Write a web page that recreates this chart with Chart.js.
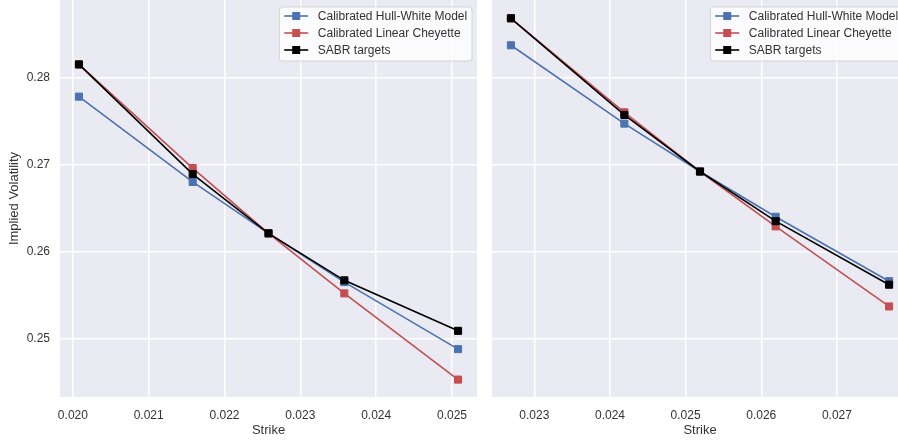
<!DOCTYPE html>
<html>
<head>
<meta charset="utf-8">
<script src="https://cdn.jsdelivr.net/npm/chart.js@4/dist/chart.umd.min.js"></script>
<style>
  html, body { margin: 0; padding: 0; background: #fff; overflow: hidden; }
  #wrap { position: relative; width: 898px; height: 441px; overflow: hidden; }
  #leftChart { position: absolute; left: 0; top: 0; }
  #rightChart { position: absolute; left: 492px; top: 0; }
</style>
</head>
<body>
<div id="wrap">
  <canvas id="leftChart" width="477" height="441"></canvas>
  <canvas id="rightChart" width="416" height="441"></canvas>
</div>
<script>
const seriesNames = ['Calibrated Hull-White Model', 'Calibrated Linear Cheyette', 'SABR targets'];
const seriesColors = ['#4C72B0', '#C44E52', '#000000'];

// left panel
const leftStrikes = [0.02008, 0.02158, 0.02258, 0.02358, 0.02508];
const leftHW   = [0.2778, 0.2680, 0.2621, 0.2565, 0.2488];
const leftLC   = [0.2815, 0.2696, 0.2621, 0.2552, 0.2453];
const leftSABR = [0.2815, 0.2689, 0.2621, 0.2567, 0.2509];

// right panel
const rightStrikes = [0.02269, 0.02419, 0.02519, 0.02619, 0.02769];
const rightHW   = [0.2837, 0.2747, 0.2692, 0.2640, 0.2566];
const rightLC   = [0.2868, 0.2760, 0.2692, 0.2629, 0.2537];
const rightSABR = [0.2868, 0.2757, 0.2692, 0.2635, 0.2562];

const yTicks = [0.25, 0.26, 0.27, 0.28];
const leftXTicks = [0.020, 0.021, 0.022, 0.023, 0.024, 0.025];
const rightXTicks = [0.023, 0.024, 0.025, 0.026, 0.027];

const yMin = 0.2433, yMax = 0.2889;

const FONT = "'Liberation Sans', Arial, sans-serif";
const TEXT = '#333333';

function makeDatasets(strikes, seriesValues) {
    return seriesValues.map((vals, i) => ({
        label: seriesNames[i],
        data: strikes.map((x, j) => ({ x: x, y: vals[j] })),
        borderColor: seriesColors[i],
        backgroundColor: seriesColors[i],
        borderWidth: 1.6,
        pointStyle: 'rect',
        pointRadius: 5,
        pointBorderWidth: 1,
        order: seriesValues.length - i // SABR on top
    }));
}

const darkgrid = {
    id: 'darkgrid',
    beforeDraw(chart) {
        const a = chart.chartArea, ctx = chart.ctx;
        ctx.save();
        ctx.fillStyle = '#EAEAF2';
        ctx.fillRect(a.left, a.top, a.right - a.left, a.bottom - a.top);
        ctx.restore();
    }
};

// matplotlib-like legend in upper right
const boxLegend = {
    id: 'boxLegend',
    afterDraw(chart) {
        const ctx = chart.ctx, a = chart.chartArea;
        const pad = 4.8, handle = 24, gap = 9.6, rowH = 17;
        ctx.save();
        ctx.font = '12px ' + FONT;
        const textW = Math.max(...seriesNames.map(n => ctx.measureText(n).width));
        const w = pad * 2 + handle + gap + textW;
        const h = 54;
        const x0 = a.right - 5 - w, y0 = a.top + 7;

        ctx.beginPath();
        if (ctx.roundRect) ctx.roundRect(x0, y0, w, h, 3); else ctx.rect(x0, y0, w, h);
        ctx.fillStyle = 'rgba(255,255,255,0.8)';
        ctx.fill();
        ctx.strokeStyle = 'rgba(204,204,204,0.8)';
        ctx.lineWidth = 1;
        ctx.stroke();

        seriesNames.forEach((name, i) => {
            const cy = y0 + 9 + i * rowH;
            const lx = x0 + pad;
            ctx.strokeStyle = seriesColors[i];
            ctx.lineWidth = 1.6;
            ctx.beginPath();
            ctx.moveTo(lx, cy);
            ctx.lineTo(lx + handle, cy);
            ctx.stroke();
            ctx.fillStyle = seriesColors[i];
            ctx.fillRect(lx + handle / 2 - 4, cy - 4, 8, 8);
            ctx.fillStyle = TEXT;
            ctx.textBaseline = 'middle';
            ctx.textAlign = 'left';
            ctx.fillText(name, lx + handle + gap, cy + 0.5);
        });
        ctx.restore();
    }
};

function noPad(s) {
    s.paddingTop = 0;
    s.paddingBottom = 0;
    s.paddingLeft = 0;
    s.paddingRight = 0;
}

function makeOptions(xMin, xMax, xTicks, showY) {
    return {
        responsive: false,
        animation: false,
        devicePixelRatio: 1,
        layout: { padding: 0, autoPadding: false },
        plugins: { legend: { display: false }, tooltip: { enabled: false } },
        scales: {
            x: {
                type: 'linear',
                min: xMin,
                max: xMax,
                afterBuildTicks: s => { s.ticks = xTicks.map(v => ({ value: v })); },
                afterFit: s => { s.height = 44; noPad(s); },
                grid: { color: '#ffffff', lineWidth: 1.5, drawTicks: false },
                border: { display: false },
                ticks: {
                    color: TEXT,
                    font: { family: FONT, size: 12 },
                    padding: 11,
                    maxRotation: 0,
                    autoSkip: false,
                    callback: v => Number(v).toFixed(3)
                },
                title: {
                    display: true,
                    text: 'Strike',
                    color: TEXT,
                    font: { family: FONT, size: 13 },
                    padding: { top: 0, bottom: 3 }
                }
            },
            y: {
                type: 'linear',
                min: yMin,
                max: yMax,
                afterBuildTicks: s => { s.ticks = yTicks.map(v => ({ value: v })); },
                afterFit: s => { s.width = showY ? 60 : 0; noPad(s); },
                grid: { color: '#ffffff', lineWidth: 1.5, drawTicks: false },
                border: { display: false },
                ticks: {
                    display: showY,
                    color: TEXT,
                    font: { family: FONT, size: 12 },
                    padding: 10,
                    autoSkip: false,
                    callback: v => Number(v).toFixed(2)
                },
                title: {
                    display: showY,
                    text: 'Implied Volatility',
                    color: TEXT,
                    font: { family: FONT, size: 13 },
                    padding: { top: 7, bottom: 0 }
                }
            }
        }
    };
}

new Chart(document.getElementById('leftChart').getContext('2d'), {
    type: 'line',
    data: { datasets: makeDatasets(leftStrikes, [leftHW, leftLC, leftSABR]) },
    options: makeOptions(0.01983, 0.02533, leftXTicks, true),
    plugins: [darkgrid, boxLegend]
});

new Chart(document.getElementById('rightChart').getContext('2d'), {
    type: 'line',
    data: { datasets: makeDatasets(rightStrikes, [rightHW, rightLC, rightSABR]) },
    options: makeOptions(0.02244, 0.02794, rightXTicks, false),
    plugins: [darkgrid, boxLegend]
});
</script>
</body>
</html>
